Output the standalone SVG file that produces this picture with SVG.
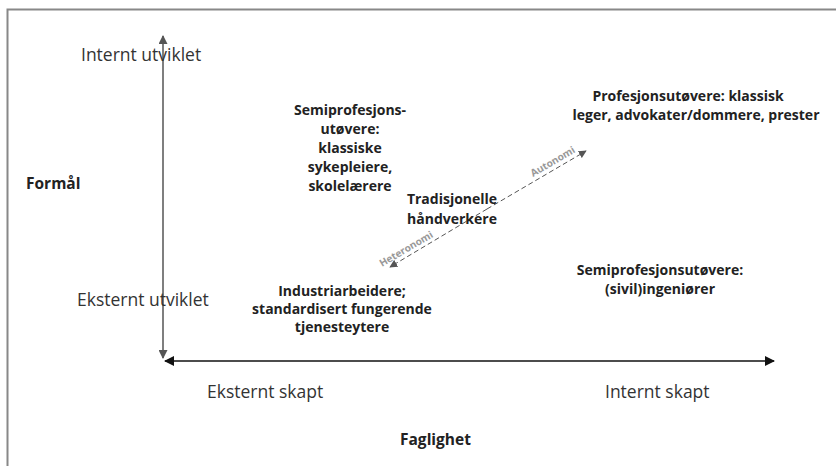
<svg xmlns="http://www.w3.org/2000/svg" width="836" height="466" viewBox="0 0 836 466">
<style>
.ax{font-family:"Open Sans","Noto Sans",sans-serif;font-size:17.5px;fill:#333}
.bd{font-family:"Open Sans","Noto Sans",sans-serif;font-size:14px;font-weight:bold;fill:#222;text-anchor:middle}
.tl{font-family:"Open Sans","Noto Sans",sans-serif;font-size:15.5px;font-weight:bold;fill:#222}
.dg{font-family:"Open Sans","Noto Sans",sans-serif;font-size:10px;font-weight:bold;fill:#999}
</style>
<defs>
<marker id="ag" viewBox="0 0 10 10" refX="9" refY="5" markerWidth="10" markerHeight="9" markerUnits="userSpaceOnUse" orient="auto"><path d="M0,0 L10,5 L0,10 z" fill="#555"/></marker>
<marker id="ak" viewBox="0 0 10 10" refX="9" refY="5" markerWidth="10" markerHeight="10" markerUnits="userSpaceOnUse" orient="auto"><path d="M0,0 L10,5 L0,10 z" fill="#111"/></marker>
<marker id="ad" viewBox="0 0 10 10" refX="9" refY="5" markerWidth="8" markerHeight="8" markerUnits="userSpaceOnUse" orient="auto"><path d="M0,0 L10,5 L0,10 z" fill="#555"/></marker>
</defs>
<rect x="0" y="0" width="836" height="466" fill="#fff"/>
<path d="M7.5,470 V9.5 H840" fill="none" stroke="#888" stroke-width="2"/>
<g id="connectors">
<line x1="163" y1="200" x2="163" y2="36" stroke="#555" stroke-width="1.5" marker-end="url(#ag)"/>
<line x1="163" y1="200" x2="163" y2="358" stroke="#555" stroke-width="1.5" marker-end="url(#ag)"/>
<line x1="470" y1="361" x2="165" y2="361" stroke="#111" stroke-width="1.5" marker-end="url(#ak)"/>
<line x1="470" y1="361" x2="774" y2="361" stroke="#111" stroke-width="1.5" marker-end="url(#ak)"/>
<line x1="487" y1="209" x2="390" y2="267" stroke="#555" stroke-width="1" stroke-dasharray="5,3" marker-end="url(#ad)"/>
<line x1="487" y1="209" x2="586" y2="151" stroke="#555" stroke-width="1" stroke-dasharray="5,3" marker-end="url(#ad)"/>
</g>
<g id="axis-labels">
<text class="ax" x="81" y="61">Internt utviklet</text>
<text class="ax" x="77" y="306">Eksternt utviklet</text>
<text class="tl" x="26" y="189">Formål</text>
<text class="ax" x="207" y="398">Eksternt skapt</text>
<text class="ax" x="605" y="398">Internt skapt</text>
<text class="tl" x="400" y="445">Faglighet</text>
</g>
<g id="semiprof-klassisk">
<text class="bd" x="350" y="115">Semiprofesjons-</text>
<text class="bd" x="350" y="134">utøvere:</text>
<text class="bd" x="350" y="153">klassiske</text>
<text class="bd" x="350" y="172">sykepleiere,</text>
<text class="bd" x="350" y="191">skolelærere</text>
</g>
<g id="profesjon">
<text class="bd" x="688" y="101">Profesjonsutøvere: klassisk</text>
<text class="bd" x="696" y="120">leger, advokater/dommere, prester</text>
</g>
<g id="tradisjonelle">
<text class="bd" x="452" y="204">Tradisjonelle</text>
<text class="bd" x="452" y="224">håndverkere</text>
</g>
<g id="industri">
<text class="bd" x="342" y="296">Industriarbeidere;</text>
<text class="bd" x="342" y="314">standardisert fungerende</text>
<text class="bd" x="342" y="332">tjenesteytere</text>
</g>
<g id="semiprof-sivil">
<text class="bd" x="660" y="275">Semiprofesjonsutøvere:</text>
<text class="bd" x="660" y="294">(sivil)ingeniører</text>
</g>
<g id="axis-dir">
<text class="dg" transform="translate(382,267) rotate(-30.3)">Heteronomi</text>
<text class="dg" transform="translate(533,177) rotate(-30.3)">Autonomi</text>
</g>
</svg>
